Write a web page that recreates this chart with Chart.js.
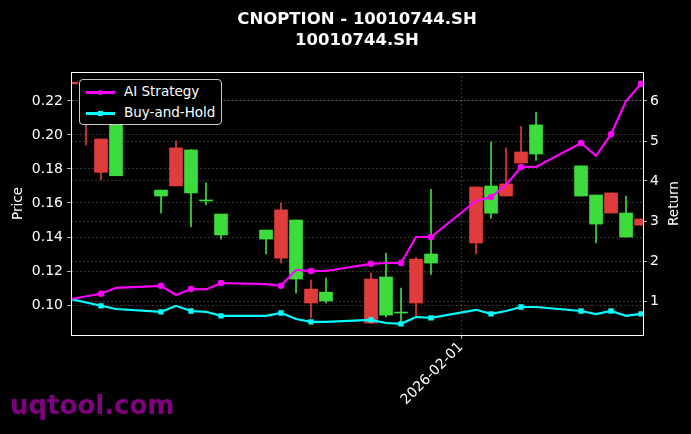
<!DOCTYPE html>
<html>
<head>
<meta charset="utf-8">
<script src="https://cdn.jsdelivr.net/npm/chart.js@4"></script>
<style>
  body { margin: 0; background: #000; }
  #wrap { position: relative; width: 691px; height: 434px; }
  #title {
    position: absolute; left: 157px; width: 400px; top: 8px; text-align: center;
    font: bold 16.5px/21px "DejaVu Sans", sans-serif; color: #fff;
  }
  #legend {
    position: absolute; left: 79px; top: 79px; width: 141px; height: 44px;
    border: 1px solid #ccc; border-radius: 4px; background: #000;
    font: 13.5px "DejaVu Sans", sans-serif; color: #fff;
  }
  .item { position: absolute; left: 6px; height: 16px; }
  .item i { position: absolute; left: 0; top: 7px; width: 29px; height: 2.5px; }
  .item b { position: absolute; left: 12px; top: 6px; width: 5px; height: 5px; border-radius: 3px; }
  .item span { position: absolute; left: 38px; top: -1px; white-space: nowrap; }
  #mark {
    position: absolute; left: 10px; top: 390px;
    font: bold 26px "DejaVu Sans", sans-serif; color: #800080;
  }
</style>
</head>
<body>
<div id="wrap">
  <canvas id="chart" width="691" height="434"></canvas>
  <div id="title">CNOPTION - 10010744.SH<br>10010744.SH</div>
  <div id="legend">
    <div class="item" style="top:4px"><i style="background:#ff00ff"></i><b style="background:#ff00ff"></b><span>AI Strategy</span></div>
    <div class="item" style="top:25px"><i style="background:#00ffff"></i><b style="background:#00ffff;border-radius:0"></b><span>Buy-and-Hold</span></div>
  </div>
  <div id="mark">uqtool.com</div>
</div>
<script>
// Trading days counted from 2026-01-06 (day 26 = 2026-02-01)
const candleDays = [0, 1, 2, 3, 6, 7, 8, 9, 10, 13, 14, 15, 16, 17, 20, 21, 22, 23, 24, 27, 28, 29, 30, 31, 34, 35, 36, 37, 38];
const opens  = [0.231, 0.226, 0.1976, 0.176, 0.1641, 0.1924, 0.1659, 0.1612, 0.1412, 0.1388, 0.156, 0.1153, 0.1094, 0.1024, 0.1153, 0.0941, 0.0953, 0.127, 0.1247, 0.1694, 0.154, 0.1712, 0.190, 0.1888, 0.1641, 0.1476, 0.1659, 0.140, 0.1506];
const closes = [0.230, 0.207, 0.178, 0.2076, 0.1676, 0.170, 0.1912, 0.1612, 0.1535, 0.1441, 0.1276, 0.150, 0.1012, 0.1076, 0.0894, 0.1165, 0.0953, 0.1012, 0.130, 0.1365, 0.170, 0.1641, 0.1835, 0.2059, 0.1818, 0.1647, 0.1541, 0.1541, 0.147];
const highs  = [0.234, 0.228, 0.1976, 0.212, 0.1676, 0.1965, 0.1912, 0.1718, 0.1535, 0.1441, 0.160, 0.150, 0.1147, 0.1159, 0.119, 0.1306, 0.110, 0.128, 0.168, 0.1694, 0.196, 0.1924, 0.205, 0.2135, 0.1818, 0.1647, 0.1659, 0.164, 0.1506];
const lows   = [0.229, 0.194, 0.1735, 0.176, 0.154, 0.170, 0.146, 0.1588, 0.1388, 0.130, 0.1247, 0.107, 0.0924, 0.1012, 0.0894, 0.093, 0.0894, 0.093, 0.118, 0.130, 0.151, 0.1641, 0.1835, 0.185, 0.1641, 0.1365, 0.1541, 0.140, 0.147];

const lineDays = [0, 2, 3, 6, 7, 8, 9, 10, 13, 14, 15, 16, 17, 20, 21, 22, 23, 24, 27, 28, 29, 30, 31, 34, 35, 36, 37, 38];
const aiReturn = [1.05, 1.18, 1.33, 1.38, 1.15, 1.30, 1.29, 1.45, 1.42, 1.38, 1.78, 1.75, 1.75, 1.93, 1.95, 1.95, 2.6, 2.6, 3.5, 3.6, 3.9, 4.35, 4.35, 4.95, 4.63, 5.17, 6.0, 6.43];
const bhReturn = [1.05, 0.88, 0.80, 0.73, 0.88, 0.75, 0.73, 0.63, 0.63, 0.70, 0.55, 0.48, 0.48, 0.53, 0.45, 0.43, 0.60, 0.58, 0.78, 0.68, 0.75, 0.85, 0.85, 0.75, 0.67, 0.75, 0.63, 0.68];

const xTickDay = 26;
const xTickLabel = "2026-02-01";

const RED = "#e03c3c";
const GREEN = "#3ddc3d";
const candleColors = opens.map((o, i) => (closes[i] >= o ? GREEN : RED));

const bodies = candleDays.map((d, i) => ({ x: d, y: [opens[i], closes[i]] }));
const wicks = candleDays.map((d, i) => ({ x: d, y: [lows[i], highs[i]] }));
const toPoints = (vals) => lineDays.map((d, i) => ({ x: d, y: vals[i] }));
const markerRadius = lineDays.map((_, i) => (i % 2 === 1 ? 2.2 : 0));

// Box around the plot area and the right axis title (reads bottom to top)
const frame = {
  id: "frame",
  afterDraw(chart) {
    const a = chart.chartArea, ctx = chart.ctx;
    ctx.save();
    ctx.strokeStyle = "#fff";
    ctx.lineWidth = 1;
    ctx.strokeRect(a.left + 0.5, a.top + 0.5, a.right - a.left, a.bottom - a.top);
    ctx.translate(674, (a.top + a.bottom) / 2);
    ctx.rotate(-Math.PI / 2);
    ctx.fillStyle = "#fff";
    ctx.font = "13.5px 'DejaVu Sans'";
    ctx.textAlign = "center";
    ctx.textBaseline = "middle";
    ctx.fillText("Return", 0, 0);
    ctx.restore();
  }
};

const gridStyle = { color: "rgba(255,255,255,0.3)", lineWidth: 0.7, tickLength: 4, tickColor: "#fff" };
const tickFont = { family: "DejaVu Sans", size: 14 };

new Chart(document.getElementById("chart"), {
  type: "bar",
  data: {
    datasets: [
      { type: "line", label: "AI Strategy", data: toPoints(aiReturn), yAxisID: "y1",
        borderColor: "#ff00ff", backgroundColor: "#ff00ff", borderWidth: 2.2,
        pointRadius: markerRadius, pointStyle: "circle", tension: 0, order: 0 },
      { type: "line", label: "Buy-and-Hold", data: toPoints(bhReturn), yAxisID: "y1",
        borderColor: "#00ffff", backgroundColor: "#00ffff", borderWidth: 2.2,
        pointRadius: markerRadius, pointStyle: "rect", tension: 0, order: 0 },
      { label: "wick", data: wicks, yAxisID: "y", backgroundColor: candleColors,
        barThickness: 1, grouped: false, order: 2 },
      { label: "body", data: bodies, yAxisID: "y", backgroundColor: candleColors,
        barThickness: 13, grouped: false, minBarLength: 1, order: 1 }
    ]
  },
  options: {
    responsive: false,
    animation: false,
    layout: { padding: { top: 72 } },
    plugins: {
      legend: { display: false },
      tooltip: { enabled: false },
      title: { display: false }
    },
    scales: {
      x: {
        type: "linear", min: 0, max: 38.13, offset: false,
        afterBuildTicks: (s) => { s.ticks = [{ value: xTickDay }]; },
        afterFit: (s) => { s.height = 99; },
        ticks: { color: "#fff", font: tickFont,
                 minRotation: 45, maxRotation: 45, padding: 0, callback: () => xTickLabel },
        grid: { offset: false, color: "rgba(255,255,255,0.3)", lineWidth: 0.7, tickColor: "#fff", tickLength: 4 },
        border: { dash: [2, 2], color: "#fff" }
      },
      y: {
        position: "left", min: 0.0824, max: 0.237,
        afterBuildTicks: (s) => { s.ticks = [0.10, 0.12, 0.14, 0.16, 0.18, 0.20, 0.22].map(v => ({ value: v })); },
        afterFit: (s) => { s.width = 71; },
        ticks: { color: "#fff", font: tickFont, padding: 4, callback: (v) => v.toFixed(2) },
        title: { display: true, text: "Price", color: "#fff", font: { family: "DejaVu Sans", size: 13.5 }, padding: { top: 10, bottom: 0 } },
        grid: gridStyle,
        border: { dash: [2, 2], color: "#fff" }
      },
      y1: {
        position: "right", min: 0.15, max: 6.725,
        afterBuildTicks: (s) => { s.ticks = [1, 2, 3, 4, 5, 6].map(v => ({ value: v })); },
        afterFit: (s) => { s.width = 48; },
        ticks: { color: "#fff", font: tickFont },
        grid: gridStyle,
        border: { dash: [2, 2], color: "#fff" }
      }
    }
  },
  plugins: [frame]
});
</script>
</body>
</html>
